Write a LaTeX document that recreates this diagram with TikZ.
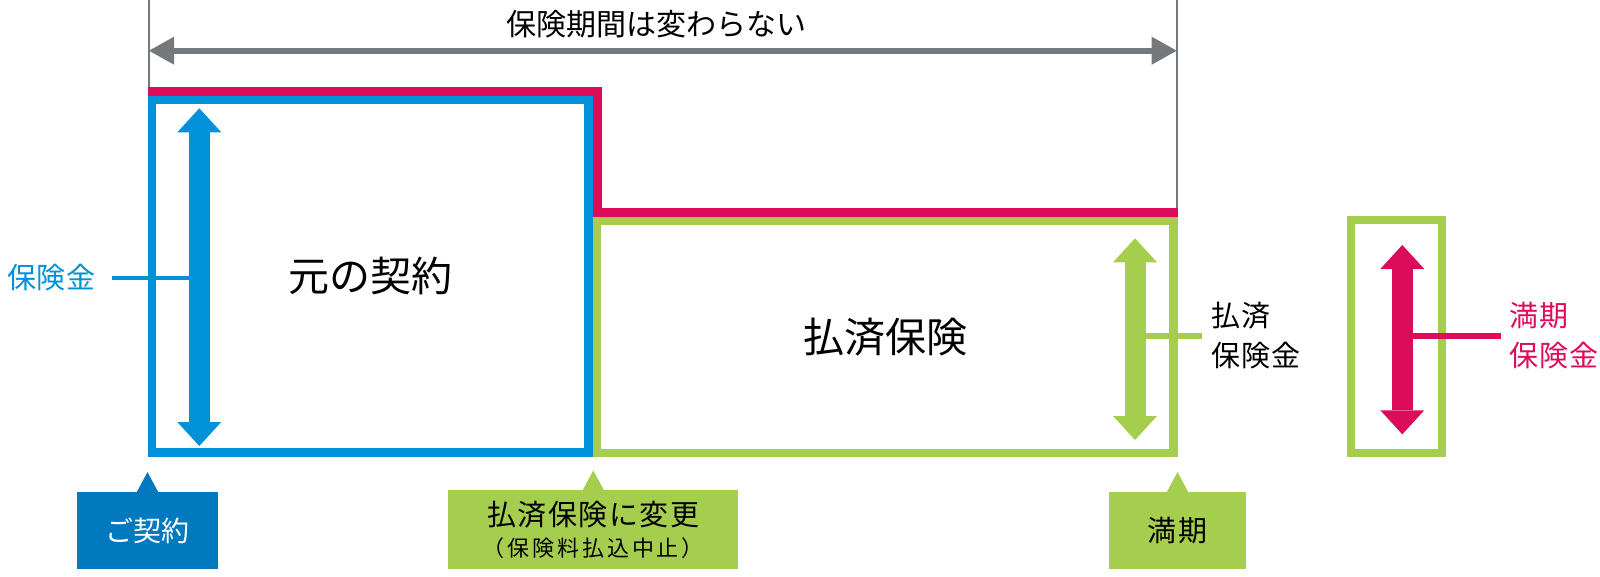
\documentclass[tikz,border=0pt]{standalone}
\usepackage{fontspec}
\setmainfont{Noto Sans CJK JP}
\usepackage{xcolor}
\usepackage{tikz}
\usetikzlibrary{arrows.meta}

\definecolor{lineblue}{HTML}{0091D9}
\definecolor{tagblue}{HTML}{0079BE}
\definecolor{leafgreen}{HTML}{A6CE4E}
\definecolor{rosered}{HTML}{DC0C5B}
\definecolor{spangray}{HTML}{76797C}

\newcommand{\setsz}[2]{\fontsize{#1}{#2}\selectfont}
\newcommand{\track}[1]{\addfontfeature{LetterSpace=#1}}

\begin{document}
\begin{tikzpicture}[x=1pt,y=-1pt,
    planbox/.style={draw, rectangle, line width=8.6pt, inner sep=0pt, font=\setsz{41}{41}},
    fatarrow/.style={line width=21pt,
      {Triangle[length=24pt,width=44pt,line width=0pt]}-{Triangle[length=24pt,width=44pt,line width=0pt]}},
    sidelbl/.style={inner ysep=0pt, align=left, font=\setsz{29}{40}\track{3}},
    tag/.style={rectangle, inner sep=0pt, minimum height=77.6pt, font=\setsz{28}{31}}]
    \useasboundingbox (0,0) rectangle (1600,576);

    % Period arrow
    \coordinate (pstart) at (149,50.7);
    \coordinate (pend) at (1176.7,50.7);
    \draw[spangray, line width=2pt] (149,0) -- (149,87);
    \draw[spangray, line width=2pt] (1176.7,0) -- (1176.7,217);
    \draw[spangray, line width=6pt,
      {Triangle[length=25pt,width=28pt,line width=0pt]}-{Triangle[length=25pt,width=28pt,line width=0pt]}] (pstart) -- (pend);
    \node[font=\setsz{30}{30}] (period) at (656,24.5) {保険期間は変わらない};

    % Rectangles
    \node[planbox, lineblue, text=black, minimum width=436.7pt, minimum height=352.7pt] (orig) at (370.35,276.35) {元の契約};
    \node[planbox, leafgreen, text=black, minimum width=576.5pt, minimum height=232pt] (paidup) at (885.25,337) {払済保険};
    \node[planbox, leafgreen, minimum width=91pt, minimum height=233pt] (matbox) at (1396.5,336.5) {};
    \draw[rosered, line width=8.6pt] (147.7,91.5) -- (597.5,91.5) -- (597.5,212.5) -- (1177.7,212.5);

    % Arrows
    \draw[fatarrow, lineblue] (199.3,108.3) -- (199.3,446);
    \draw[fatarrow, leafgreen] (1135,238.3) -- (1135,440);
    \draw[fatarrow, rosered] (1402.3,245) -- (1402.3,434.3);

    % Labels
    \coordinate (bmid) at (199.3,277.7);
    \node[sidelbl, text=lineblue, anchor=east, inner xsep=16pt] (sumins) at (112,277.7) {保険金};
    \draw[lineblue, line width=4pt] (sumins.east) -- (bmid);

    \coordinate (gmid) at (1135,336);
    \node[sidelbl, anchor=west, inner xsep=10pt] (paidlbl) at (1201.7,336) {払済\\保険金};
    \draw[leafgreen, line width=6.5pt] (gmid) -- (paidlbl.west);

    \coordinate (mmid) at (1402.3,336);
    \node[sidelbl, text=rosered, anchor=west, inner xsep=9pt] (maturlbl) at (1500.5,336) {満期\\保険金};
    \draw[rosered, line width=6pt] (mmid) -- (maturlbl.west);

    % Callouts
    \node[tag, fill=tagblue, text=white, minimum width=141.6pt] (signup) at (147.5,530.5) {ご契約};
    \node[tag, fill=leafgreen, align=center, minimum width=290pt, minimum height=79.3pt] (switch) at (593.3,529.7)
      {\setsz{29}{31}\track{5}払済保険に変更\\\setsz{22}{31}\track{13}（保険料払込中止）};
    \node[tag, fill=leafgreen, minimum width=137pt, font=\setsz{29}{31}\track{8}] (mature) at (1177.5,530.5) {満期};

    \fill[tagblue] ([xshift=-11pt,yshift=-1pt]signup.north) -- ([yshift=19.4pt]signup.north) -- ([xshift=11pt,yshift=-1pt]signup.north) -- cycle;
    \fill[leafgreen] ([xshift=-11pt,yshift=-1pt]switch.north) -- ([yshift=19.4pt]switch.north) -- ([xshift=11pt,yshift=-1pt]switch.north) -- cycle;
    \fill[leafgreen] ([xshift=-11pt,yshift=-1pt]mature.north) -- ([yshift=19.4pt]mature.north) -- ([xshift=11pt,yshift=-1pt]mature.north) -- cycle;
\end{tikzpicture}
\end{document}
